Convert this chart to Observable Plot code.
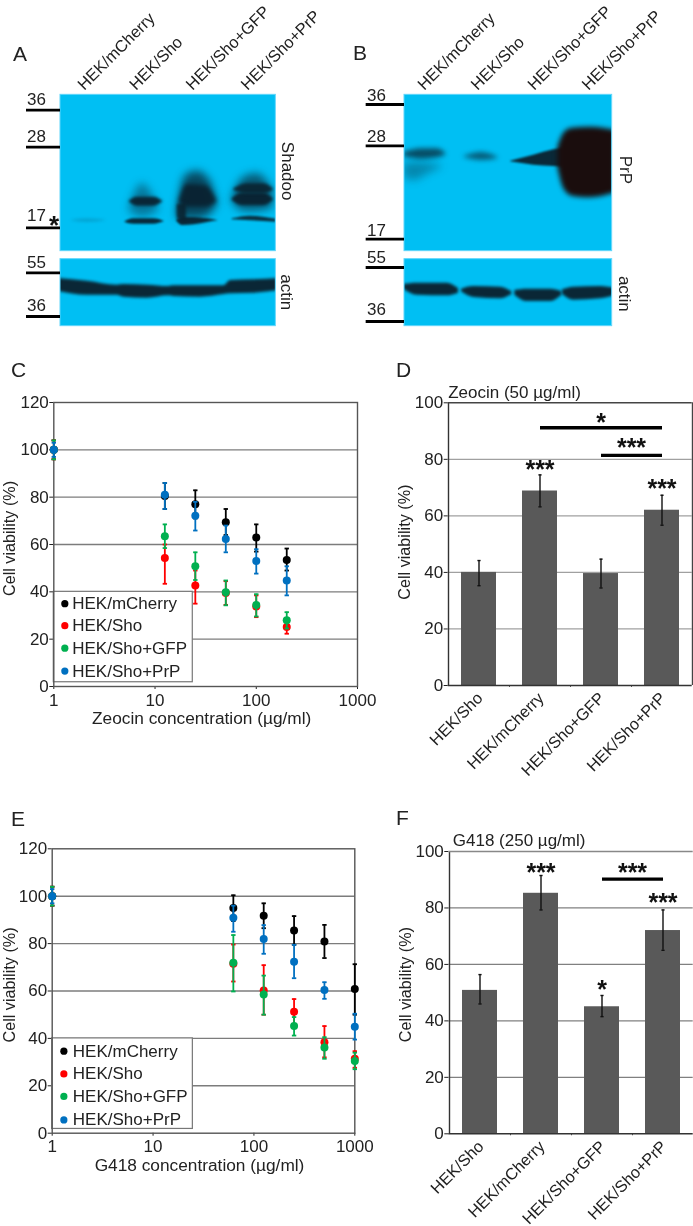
<!DOCTYPE html>
<html><head><meta charset="utf-8">
<script src="https://cdn.jsdelivr.net/npm/d3@7"></script>
<script src="https://cdn.jsdelivr.net/npm/@observablehq/plot@0.6"></script>
<style>
html,body{margin:0;padding:0;background:#fff}
#page{position:relative;width:693px;height:1226px;overflow:hidden;font-family:"Liberation Sans",Arial,sans-serif;color:#222;filter:blur(.4px)}
.letter{position:absolute;font-size:21px;line-height:24px}
</style></head><body><div id="page"></div>
<script>
// ---------- categories and names
const seriesNames = ["HEK/mCherry","HEK/Sho","HEK/Sho+GFP","HEK/Sho+PrP"];
const seriesColors = ["#000000","#ff0000","#00b050","#0070c0"];
const barCategories = ["HEK/Sho","HEK/mCherry","HEK/Sho+GFP","HEK/Sho+PrP"];
const blotLanes = ["HEK/mCherry","HEK/Sho","HEK/Sho+GFP","HEK/Sho+PrP"];

// ---------- panel C: Zeocin dose response
const zeocinConc = [1,12.5,25,50,100,200];
const zeocinMCherry = [100,80.5,77,69.4,63,53.5];
const zeocinMCherryLow = [96,75,71,64,57,49];
const zeocinMCherryHigh = [104,86,82.9,75,68.5,58.3];
const zeocinSho = [100,54.3,42.7,39.5,33.8,25.1];
const zeocinShoLow = [96,43.4,35,34.5,29.3,22.3];
const zeocinShoHigh = [104,60,49,44.5,38.5,28];
const zeocinGFP = [100,63.5,50.8,39.8,34.4,28];
const zeocinGFPLow = [96,58.5,45,34.3,29.6,24.5];
const zeocinGFPHigh = [104,68.5,56.7,44.8,39,31.4];
const zeocinPrP = [100,81,72.2,62.3,53,44.8];
const zeocinPrPLow = [97,75,65.9,56.7,47.7,38.5];
const zeocinPrPHigh = [103,86,78,68,58,50.8];

// ---------- panel E: G418 dose response
const g418Conc = [1,62.5,125,250,500,1000];
const g418MCherry = [100,95,91.7,85.5,80.9,60.8];
const g418MCherryLow = [96,89.5,86.5,79.5,73.9,50];
const g418MCherryHigh = [104,100.4,97,91.6,87.9,71.3];
const g418Sho = [100,71.5,60.2,51.2,38.4,31.4];
const g418ShoLow = [96,64,50,45.5,32,27.6];
const g418ShoHigh = [104,79.6,70.9,56.6,45.2,34.6];
const g418GFP = [100,71.9,58.5,45.2,36.2,30.5];
const g418GFPLow = [96,59.8,50,41.2,31.4,27];
const g418GFPHigh = [104,83.6,66.5,49,40.5,34];
const g418PrP = [100,90.9,81.9,72.3,60.4,44.9];
const g418PrPLow = [97,85,75.7,65.4,56.7,39.5];
const g418PrPHigh = [103,96,87.8,79.5,63.7,50.4];

// ---------- panels D, F: bars
const zeocinBar = [40,68.8,39.6,62];
const zeocinBarLow = [35.3,63.2,34.5,56.7];
const zeocinBarHigh = [44.2,74.5,44.7,67.3];
const g418Bar = [50.8,85.2,45,72];
const g418BarLow = [46,79.3,41.5,65];
const g418BarHigh = [56.4,91.5,49,79.3];

// ---------- blots, in gel units (three per screen pixel)
const bandDark = "#0a2230";
const blotABands = [
  {o:.16,b:1.5,p:[[210,660,660],[260,655,666],[320,660,660]]},
  {o:.45,b:4,p:[[385,625,630],[425,550,650],[475,625,630]]},
  {o:.95,b:1.4,p:[[385,603,603],[410,590,617],[460,590,617],[488,603,603]]},
  {o:.95,b:1.1,p:[[372,665,665],[400,655,671],[460,655,671],[492,663,663]]},
  {o:.75,b:4.5,p:[[528,640,650],[555,525,655],[590,512,655],[625,535,645],[650,600,615]]},
  {o:.95,b:2.2,p:[[535,605,606],[560,552,620],[615,556,620],[648,600,605]]},
  {o:.9,b:1.5,p:[[530,612,655],[558,608,664]]},
  {o:.96,b:1.1,p:[[528,660,661],[545,651,675],[580,651,673],[620,655,666],[652,660,661]]},
  {o:.65,b:4,p:[[695,590,605],[730,530,632],[770,520,632],[818,570,622]]},
  {o:.95,b:1.8,p:[[695,595,600],[725,578,615],[790,578,615],[818,595,600]]},
  {o:.9,b:1.8,p:[[700,565,570],[740,550,580],[790,550,580],[818,565,570]]},
  {o:.9,b:1,p:[[695,655,658],[750,647,661],[828,656,665]]},
  {o:.97,b:1.6,p:[[172,834,872],[260,842,884],[350,854,884],[370,852,890],[440,854,893],[505,858,886],[520,856,888],[600,856,890],[670,856,882],[690,840,880],[760,838,878],[838,834,870]]}
];
const blotBBands = [
  {o:.72,b:2.4,p:[[160,456,468],[215,445,476],[260,445,472],[287,460,463]]},
  {o:.35,b:4,p:[[160,490,530],[190,485,540],[235,488,518],[275,495,500]]},
  {o:.62,b:2.4,p:[[340,468,470],[395,456,480],[442,470,474]]},
  {o:.96,b:1.3,p:[[480,482,484],[550,464,494],[610,448,498],[640,443,500]]},
  {o:1,b:2.4,f:"#1a0d0d",p:[[622,440,500],[640,398,565],[665,383,587],[720,380,592],[795,390,577]]},
  {o:.97,b:1.4,p:[[160,852,866],[200,848,884],[290,848,886],[324,864,878]]},
  {o:.97,b:1.4,p:[[333,866,874],[370,858,891],[450,860,895],[484,874,882]]},
  {o:.97,b:1.4,p:[[493,870,884],[530,866,903],[600,866,903],[634,873,884]]},
  {o:.97,b:1.4,p:[[636,868,882],[670,860,899],[750,858,895],[795,864,884]]}
];
const blotALabelX = [240,395,565,730];
const blotBLabelX = [210,370,540,703];
const blotAMarkers = [{k:"36",y:329,ty:298},{k:"28",y:440,ty:408},{k:"17",y:682,ty:645},{k:"55",y:817,ty:785},{k:"36",y:948,ty:915}];
const blotBMarkers = [{k:"36",y:312,ty:285},{k:"28",y:436,ty:408},{k:"17",y:716,ty:690},{k:"55",y:801,ty:772},{k:"36",y:963,ty:927}];

const FONT = "'Liberation Sans',Arial,sans-serif";
const page = document.getElementById("page");
const TXT = "#222";
const base = (left,top) => ({position:"absolute",left:left+"px",top:top+"px",background:"transparent",fontFamily:FONT,fontSize:"17px",color:TXT,overflow:"visible"});

function blot(cfg){
  const W=cfg.w*3,H=1020;
  const gels=[{y1:283,y2:752},{y1:776,y2:977}];
  const marks=[
    Plot.rect(gels,{x1:cfg.gx1,x2:cfg.gx2,y1:"y1",y2:"y2",fill:"#00bff3"}),
    ...cfg.bands.map(b=>Plot.areaY(b.p,{x:d=>d[0],y1:d=>d[1],y2:d=>d[2],curve:"monotone-x",fill:b.f||bandDark,fillOpacity:b.o,imageFilter:`blur(${b.b}px)`})),
    Plot.rect(gels,{x1:0,x2:cfg.gx1,y1:"y1",y2:"y2",fill:"#fff"}),
    Plot.rect(gels,{x1:cfg.gx2,x2:W,y1:"y1",y2:"y2",fill:"#fff"}),
    Plot.rect(gels,{x1:cfg.gx1,x2:cfg.gx2,y1:"y1",y2:"y2",fill:"none",stroke:"#5fd6fb",strokeWidth:1}),
    Plot.ruleY(cfg.markers,{x1:cfg.mx,x2:cfg.gx1,y:"y",stroke:"#000",strokeWidth:2.8}),
    Plot.text(cfg.markers,{x:cfg.tx,y:"ty",text:"k",fill:TXT,textAnchor:"middle"}),
    Plot.text(blotLanes,{x:(d,i)=>cfg.labelX[i],y:()=>260,text:d=>d,rotate:-45,textAnchor:"start",fill:TXT,fontSize:16.4}),
    ...cfg.side.map(s=>Plot.text([s.t],{x:()=>s.x,y:()=>s.y,text:d=>d,rotate:90,fill:TXT,textAnchor:"middle"}))
  ];
  if(cfg.extra) marks.push(...cfg.extra);
  const svg=Plot.plot({width:cfg.w,height:340,margin:0,
    x:{domain:[0,W],range:[0,cfg.w],axis:null},
    y:{domain:[0,H],range:[0,340],axis:null},
    style:base(cfg.left,0),marks});
  page.appendChild(svg);
}
blot({left:0,w:350,gx1:180,gx2:826,mx:78,tx:108,markers:blotAMarkers,labelX:blotALabelX,bands:blotABands,
  side:[{t:"Shadoo",x:860,y:512},{t:"actin",x:858,y:875}],
  extra:[Plot.text(["*"],{x:()=>161,y:()=>676,text:d=>d,fontSize:26,fontWeight:"bold",fill:"#111",textAnchor:"middle"})]});
blot({left:350,w:343,gx1:162,gx2:785,mx:47,tx:78,markers:blotBMarkers,labelX:blotBLabelX,bands:blotBBands,
  side:[{t:"PrP",x:825,y:508},{t:"actin",x:822,y:880}]});

// cap symbol for error bars
const capSymbol = {draw(ctx,size){const r=Math.sqrt(size/Math.PI);ctx.moveTo(-r,0);ctx.lineTo(r,0);}};

function curvePanel(cfg){
  const marks=[
    Plot.ruleY([20,40,60,80,100],{stroke:"#7c7c7c",strokeWidth:1.4}),
    Plot.rect([0],{x1:()=>1,x2:()=>cfg.legX,y1:()=>1.8,y2:()=>40,fill:"#fff",stroke:"#777",strokeWidth:1.2}),
    Plot.frame({stroke:"#555",strokeWidth:1.4})
  ];
  cfg.series.forEach((s,k)=>{
    const rows=cfg.conc.map((c,i)=>({c,v:s.v[i],lo:s.lo[i],hi:s.hi[i]}));
    const col=seriesColors[k];
    marks.push(
      Plot.ruleX(rows,{x:"c",y1:"lo",y2:"hi",stroke:col,strokeWidth:1.8}),
      Plot.dot(rows,{x:"c",y:"lo",symbol:capSymbol,r:2.2,fill:"none",stroke:col,strokeWidth:1.8}),
      Plot.dot(rows,{x:"c",y:"hi",symbol:capSymbol,r:2.2,fill:"none",stroke:col,strokeWidth:1.8}),
      Plot.dot(rows,{x:"c",y:"v",r:4,fill:col})
    );
  });
  const leg=seriesNames.map((n,i)=>({n,c:seriesColors[i],y:cfg.legY[i]}));
  marks.push(
    Plot.dot(leg,{x:()=>cfg.legDot,y:"y",r:3.6,fill:"c"}),
    Plot.text(leg,{x:()=>cfg.legTxt,y:"y",text:"n",textAnchor:"start",fill:TXT}),
    Plot.text(["Cell viability (%)"],{frameAnchor:"left",rotate:-90,dx:-cfg.ml+9,dy:-6,text:d=>d,fill:TXT,textAnchor:"middle",fontSize:16.2}),
    Plot.text([cfg.xlabel],{frameAnchor:"bottom",dy:cfg.xdy,text:d=>d,fill:TXT,textAnchor:"middle",fontSize:17.3,dx:cfg.xdx})
  );
  const svg=Plot.plot({width:380,height:cfg.h,marginLeft:cfg.ml,marginRight:cfg.mr,marginTop:cfg.mt,marginBottom:cfg.mb,
    x:{type:"log",domain:[1,1000],ticks:[1,10,100,1000],tickFormat:d3.format("d"),tickSize:3,tickPadding:4,label:null},
    y:{domain:[0,120],ticks:[0,20,40,60,80,100,120],tickSize:4,tickPadding:1,label:null},
    style:base(cfg.left,cfg.top),marks});
  page.appendChild(svg);
}
curvePanel({left:0,top:380,h:350,ml:53.3,mr:23,mt:22,mb:44,conc:zeocinConc,legX:23.6,legDot:1.285,legTxt:1.52,legY:[35,25.7,16.2,6.5],
  xlabel:"Zeocin concentration (µg/ml)",xdy:37,xdx:-4,
  series:[{v:zeocinMCherry,lo:zeocinMCherryLow,hi:zeocinMCherryHigh},{v:zeocinSho,lo:zeocinShoLow,hi:zeocinShoHigh},{v:zeocinGFP,lo:zeocinGFPLow,hi:zeocinGFPHigh},{v:zeocinPrP,lo:zeocinPrPLow,hi:zeocinPrPHigh}]});
curvePanel({left:0,top:826,h:356,ml:51.7,mr:25.7,mt:22.3,mb:49.3,conc:g418Conc,legX:24.8,legDot:1.305,legTxt:1.6,legY:[34.6,25,15.5,5.6],
  xlabel:"G418 concentration (µg/ml)",xdy:38,xdx:-4,
  series:[{v:g418MCherry,lo:g418MCherryLow,hi:g418MCherryHigh},{v:g418Sho,lo:g418ShoLow,hi:g418ShoHigh},{v:g418GFP,lo:g418GFPLow,hi:g418GFPHigh},{v:g418PrP,lo:g418PrPLow,hi:g418PrPHigh}]});

function barPanel(cfg){
  const rows=barCategories.map((c,i)=>({c,v:cfg.v[i],lo:cfg.lo[i],hi:cfg.hi[i]}));
  const marks=[
    Plot.ruleY([20,40,60,80],{stroke:cfg.grid,strokeWidth:1.3}),
    Plot.barY(rows,{x:"c",y:"v",fill:"#595959"}),
    Plot.ruleX(rows,{x:"c",y1:"lo",y2:"hi",stroke:"#111",strokeWidth:1.4}),
    Plot.dot(rows,{x:"c",y:"lo",symbol:capSymbol,r:1.6,fill:"none",stroke:"#111",strokeWidth:1.4}),
    Plot.dot(rows,{x:"c",y:"hi",symbol:capSymbol,r:1.6,fill:"none",stroke:"#111",strokeWidth:1.4}),
    Plot.ruleX(barCategories.slice(1),{x:d=>d,y1:()=>0,y2:()=>-0.7,dx:-30.5,stroke:"#555"}),
    Plot.ruleY([0],{stroke:"#333",strokeWidth:1.6}),
    Plot.ruleX([barCategories[0]],{x:d=>d,dx:-30.5,stroke:"#333",strokeWidth:1.4}),
    Plot.ruleY([100],{stroke:cfg.topStroke,strokeWidth:1.4}),
    Plot.text(barCategories,{x:d=>d,y:()=>0,dx:1,dy:10,text:d=>d,rotate:-45,textAnchor:"end",fill:TXT,fontSize:16.3}),
    Plot.text(["Cell viability (%)"],{frameAnchor:"left",rotate:-90,dx:-43,dy:cfg.titleDy,text:d=>d,fill:TXT,textAnchor:"middle",fontSize:16.2}),
    Plot.text([cfg.title],{frameAnchor:"top-left",dx:cfg.titleDx,dy:cfg.titleUp,text:d=>d,fill:TXT,textAnchor:"start"}),
    Plot.link(cfg.sig,{x1:"a",x2:"b",y1:"y",y2:"y",stroke:"#000",strokeWidth:3.4}),
    Plot.text(cfg.stars,{x:"x",y:"y",text:"t",fontSize:25,fontWeight:"bold",fill:"#111",dy:4,textAnchor:"middle"}),
    Plot.text(cfg.betweenStars,{x:"x",y:"y",dx:-30.5,text:"t",fontSize:25,fontWeight:"bold",fill:"#111",dy:4,textAnchor:"middle"})
  ];
  if(cfg.rightFrame) marks.push(Plot.ruleX([barCategories[3]],{x:d=>d,dx:30.5,stroke:"#444",strokeWidth:1.4}));
  const svg=Plot.plot({width:313,height:cfg.h,marginLeft:cfg.ml,marginRight:cfg.mr,marginTop:cfg.mt,marginBottom:cfg.mb,
    x:{type:"band",domain:barCategories,paddingInner:.43,paddingOuter:.215,axis:null},
    y:{domain:[0,100],ticks:[0,20,40,60,80,100],tickSize:4,tickPadding:1,label:null},
    style:base(cfg.left,cfg.top),marks});
  page.appendChild(svg);
}
barPanel({left:380,top:375,h:425,ml:67.7,mr:1.3,mt:27.3,mb:115,v:zeocinBar,lo:zeocinBarLow,hi:zeocinBarHigh,grid:"#a0a0a0",topStroke:"#444",rightFrame:true,
  title:"Zeocin (50 µg/ml)",titleDx:0,titleDy:-2,titleUp:-17,
  sig:[{a:"HEK/mCherry",b:"HEK/Sho+PrP",y:91.2},{a:"HEK/Sho+GFP",b:"HEK/Sho+PrP",y:81.4}],
  stars:[{x:"HEK/mCherry",y:77.8,t:"***"},{x:"HEK/Sho+PrP",y:70.8,t:"***"},{x:"HEK/Sho+GFP",y:94.1,t:"*"}],
  betweenStars:[{x:"HEK/Sho+PrP",y:85.3,t:"***"}]});
barPanel({left:380,top:825,h:401,ml:68.3,mr:.3,mt:26,mb:92.7,v:g418Bar,lo:g418BarLow,hi:g418BarHigh,grid:"#808080",topStroke:"#888",rightFrame:false,
  title:"G418 (250 µg/ml)",titleDx:4,titleDy:-8,titleUp:-18,
  sig:[{a:"HEK/Sho+GFP",b:"HEK/Sho+PrP",y:90.2}],
  stars:[{x:"HEK/mCherry",y:93.9,t:"***"},{x:"HEK/Sho+PrP",y:83.2,t:"***"},{x:"HEK/Sho+GFP",y:52.5,t:"*"}],
  betweenStars:[{x:"HEK/Sho+PrP",y:93.9,t:"***"}]});

// panel letters
[["A",13,42],["B",353,41],["C",11,358],["D",396,358],["E",11,807],["F",396,806]].forEach(([t,x,y])=>{
  const d=document.createElement("div");d.className="letter";d.textContent=t;d.style.left=x+"px";d.style.top=y+"px";page.appendChild(d);
});
</script></body></html>
